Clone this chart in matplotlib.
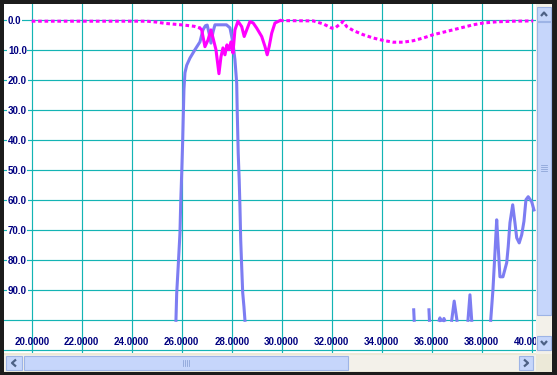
import numpy as np
import matplotlib
matplotlib.use('Agg')
import matplotlib.pyplot as plt
from matplotlib.patches import Rectangle

nan = np.nan

# purple trace (filter passband + noise spikes on the right), dB below 0
pass_x = [25.77, 25.80, 25.86, 25.93, 25.96, 26.00, 26.04, 26.06, 26.09, 26.13, 26.20, 26.33,
          26.53, 26.73, 26.85, 26.95, 27.02, 27.10, 27.17, 27.25, 27.33, 27.45, 27.65, 27.79,
          27.93, 28.05, 28.13, 28.20, 28.22, 28.26, 28.30, 28.33, 28.36, 28.40, 28.44, 28.49, 28.53,
          nan, 35.28, 35.30, nan, 35.89, 35.91, nan, 36.30, 36.33, 36.36, nan, 36.46, 36.49, 36.52,
          nan, 36.80, 36.90, 37.01, nan, 37.45, 37.53, 37.60,
          nan, 38.36, 38.45, 38.53, 38.60, 38.66, 38.73, 38.85, 39.00, 39.06, 39.13, 39.24, 39.33,
          39.40, 39.50, 39.60, 39.69, 39.77, 39.86, 40.00, 40.09]
pass_y = [100, 91, 82, 71, 61, 51, 40, 33, 23, 17.5, 15.0, 12.6,
          9.8, 7.2, 3.2, 1.8, 1.6, 4.5, 7.6, 4.0, 1.5, 1.5, 1.5, 1.5,
          2.5, 7.5, 13.2, 21.0, 29.8, 44.2, 53.2, 62.2, 73.2, 82.2, 90.8, 95.5, 100,
          nan, 96.5, 100, nan, 96.5, 100, nan, 100, 99.2, 100, nan, 100, 99.4, 100,
          nan, 100, 93.6, 100, nan, 100, 91.5, 100,
          nan, 100, 89.8, 77.5, 66.5, 75.5, 85.5, 85.5, 80.8, 75.5, 67.5, 61.5, 67.5,
          72.5, 74.2, 71.5, 67.0, 59.8, 58.8, 60.5, 63.2]

# magenta trace, dotted outside the band, solid inside
mag_left_x = [20.0, 24.6, 25.0, 25.3, 25.7, 26.1, 26.5, 26.73]
mag_left_y = [0.3, 0.3, 0.6, 1.0, 1.3, 1.6, 2.0, 2.6]
mag_mid_x = [26.73, 26.80, 26.93, 27.05, 27.17, 27.25, 27.37, 27.49, 27.57, 27.65, 27.73, 27.81,
             27.89, 27.97, 28.05, 28.13, 28.25, 28.40, 28.50, 28.60, 28.73, 28.86, 29.00, 29.20,
             29.33, 29.42, 29.50, 29.60, 29.73, 29.93]
mag_mid_y = [2.6, 3.2, 8.8, 6.6, 3.2, 5.8, 9.8, 17.8, 12.2, 9.2, 11.5, 8.2,
             9.8, 7.2, 10.9, 3.2, 0.3, 2.1, 5.4, 3.2, 0.4, 0.9, 2.6, 5.4,
             8.7, 11.5, 8.7, 4.3, 0.9, 0.1]
mag_right_x = [29.93, 31.26, 31.66, 32.00, 32.13, 32.46, 32.60, 32.86, 33.26, 33.66, 34.06, 34.46,
               34.86, 35.26, 35.66, 36.06, 36.60, 37.13, 37.66, 38.06, 38.60, 39.26, 40.06]
mag_right_y = [0.1, 0.2, 1.2, 2.6, 2.6, 0.4, 2.1, 3.4, 4.8, 5.9, 6.7, 7.3,
               7.3, 6.8, 5.9, 4.8, 3.7, 2.6, 1.5, 0.9, 0.5, 0.3, 0.2]

x_ticks = [20, 22, 24, 26, 28, 30, 32, 34, 36, 38, 40]
x_labels = ['20.0000', '22.0000', '24.0000', '26.0000', '28.0000', '30.0000',
            '32.0000', '34.0000', '36.0000', '38.0000', '40.0000']
y_ticks = [0, 10, 20, 30, 40, 50, 60, 70, 80, 90, 100, 110]
y_labels = ['0.0', '10.0', '20.0', '30.0', '40.0', '50.0', '60.0', '70.0', '80.0', '90.0', '', '']

W, H = 557, 375
BLUE = '#7d7df2'
MAG = '#ff00ff'
GRID = '#14b4b4'
NAVY = '#000080'


def px_box(x0, y0, x1, y1):
    return [x0 / W, 1 - y1 / H, (x1 - x0) / W, (y1 - y0) / H]


fig = plt.figure(figsize=(W / 100, H / 100), dpi=100, facecolor='#1c1c1c')

# window chrome (scrollbars) in pixel coordinates
ch = fig.add_axes([0, 0, 1, 1], zorder=0)
ch.set_xlim(0, W)
ch.set_ylim(H, 0)
ch.axis('off')
ch.add_patch(Rectangle((4, 352), 548, 20, facecolor='#ece9d8', edgecolor='none'))
ch.add_patch(Rectangle((536, 4), 16, 350, facecolor='#f3f1ea', edgecolor='none'))
ch.add_patch(Rectangle((4, 355), 532, 16, facecolor='#f3f1ea', edgecolor='none'))
btn = dict(facecolor='#c6d6fb', edgecolor='#9db4e6', linewidth=0.8)
ch.add_patch(Rectangle((537, 7), 14, 14, **btn))
ch.add_patch(Rectangle((537, 22), 14, 293, **btn))
ch.add_patch(Rectangle((537, 336), 14, 14, **btn))
ch.add_patch(Rectangle((6, 356), 16, 14, **btn))
ch.add_patch(Rectangle((24, 356), 324, 14, **btn))
ch.add_patch(Rectangle((519, 356), 14, 14, **btn))
arrow = dict(color='#4d6185', linewidth=1.6, solid_capstyle='butt')
ch.plot([541, 544, 547], [16, 12.5, 16], **arrow)
ch.plot([541, 544, 547], [341, 344.5, 341], **arrow)
ch.plot([16, 12, 16], [359.5, 363, 366.5], **arrow)
ch.plot([524, 528, 524], [359.5, 363, 366.5], **arrow)
for k in range(4):
    ch.plot([541, 547], [165 + 2 * k, 165 + 2 * k], color='#8fa6d8', linewidth=0.6)
    ch.plot([183 + 2 * k, 183 + 2 * k], [360, 366], color='#8fa6d8', linewidth=0.6)

# plot area
ax = fig.add_axes(px_box(4, 4, 536, 353), zorder=2)
ax.set_facecolor('white')
for s in ax.spines.values():
    s.set_visible(False)

ax.plot(pass_x, pass_y, color=BLUE, linewidth=2.2, solid_joinstyle='round', zorder=3)
dots = dict(color=MAG, linewidth=2.2, linestyle=(0, (1.2, 0.9)), dash_capstyle='butt', zorder=4)
ax.plot(mag_left_x, mag_left_y, **dots)
ax.plot(mag_right_x, mag_right_y, **dots)
ax.plot(mag_mid_x, mag_mid_y, color=MAG, linewidth=2.2, solid_joinstyle='round', zorder=4)

ax.set_xlim(20 + (4 - 31.7) / 25, 20 + (536 - 31.7) / 25)
ax.set_ylim((353 - 20.3) / 3, (4 - 20.3) / 3)

ax.set_xticks(x_ticks, labels=x_labels)
ax.set_yticks(y_ticks, labels=y_labels)
ax.grid(True, color=GRID, linewidth=0.85)
ax.set_axisbelow(True)
ax.tick_params(axis='x', length=0, pad=-7.6, labelsize=7, labelcolor=NAVY)
ax.tick_params(axis='y', length=0, pad=-2.9, labelsize=7, labelcolor=NAVY)
for t in ax.get_xticklabels():
    t.set_fontweight('bold')
    t.set_fontfamily('Liberation Sans')
    t.set_va('center')
    t.set_clip_box(ax.bbox)
    t.set_clip_on(True)
for t in ax.get_yticklabels():
    t.set_fontweight('bold')
    t.set_fontfamily('Liberation Sans')
    t.set_ha('left')
    t.set_bbox(dict(facecolor='white', edgecolor='none', pad=0.4))

fig.savefig('out.png', dpi=100, facecolor=fig.get_facecolor())
